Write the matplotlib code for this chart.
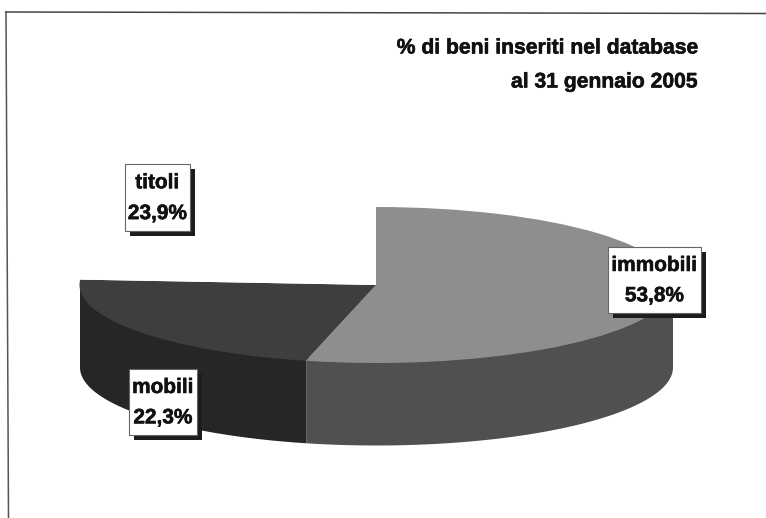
import numpy as np
import matplotlib
matplotlib.use('Agg')
import matplotlib.pyplot as plt
import matplotlib.patheffects as pe
from matplotlib.patches import Rectangle

plt.rcParams['font.family'] = ['Liberation Sans', 'DejaVu Sans']

categories = ['immobili', 'mobili', 'titoli']
shares = [53.8, 22.3, 23.9]
share_labels = ['53,8%', '22,3%', '23,9%']
title_lines = ['% di beni inseriti nel database', 'al 31 gennaio 2005']

top_colors = ['#8e8e8e', '#3e3e3e', 'white']
wall_colors = ['#505050', '#262626', 'white']

W, H = 766, 518
CX, CY = 376, 285      # pie centre on the page, px
RX, RY = 296.5, 78     # pie is squashed into this ellipse
DEPTH = 82 / RY        # wall height in pie units

fig = plt.figure(figsize=(W / 100, H / 100), dpi=100)

# pie axes: one data unit is one radius, aspect left free to squash it
ax = fig.add_axes([0, 0, 1, 1])
ax.pie(shares, colors=top_colors, startangle=90, counterclock=False,
       center=(0, 0), radius=1, frame=True, wedgeprops={'lw': 0})
ax.set_aspect('auto')
ax.set_xlim(-CX / RX, (W - CX) / RX)
ax.set_ylim((CY - H) / RY, CY / RY)
ax.axis('off')

# side wall, only the front half of the ellipse shows
ends = np.cumsum(shares) / 100 * 360
starts = ends - np.array(shares) / 100 * 360
for a, b, col in zip(starts, ends, wall_colors):
    a, b = max(a, 90), min(b, 270)
    if a >= b or col == 'white':
        continue
    t = np.radians(np.linspace(a, b, 120))
    x = np.sin(t)
    y = np.cos(t)
    # top edge runs a little under the pie so no seam shows
    ax.fill_between(x, y + 0.05, y - DEPTH, color=col, lw=0, zorder=0.5)

# overlay in page pixels for frame, title and labels
pg = fig.add_axes([0, 0, 1, 1])
pg.set_xlim(0, W)
pg.set_ylim(H, 0)
pg.axis('off')
pg.patch.set_alpha(0)

pg.plot([6, 8.5], [12, H], color='#555555', lw=1.1)
pg.plot([6, W], [12, 13.5], color='#444444', lw=1.1)

# thin stroke, the scanned text is heavier than the plain bold
heavy = [pe.withStroke(linewidth=0.4, foreground='#111111')]

for line, y in zip(title_lines, [48, 82]):
    pg.text(698, y, line, ha='right', va='center', fontsize=15.2, fontweight='bold',
            color='#111111', path_effects=heavy)

boxes = {'titoli': (125, 164, 65, 67), 'mobili': (129, 369, 68, 66), 'immobili': (608, 247, 93, 66)}
for name, val in zip(categories, share_labels):
    x, y, w, h = boxes[name]
    pg.add_patch(Rectangle((x + 5, y + 5), w, h, fc='#1c1c1c', ec='none'))
    pg.add_patch(Rectangle((x, y), w, h, fc='white', ec='#666666', lw=0.8))
    pg.text(x + w / 2, y + h * 0.28, name, ha='center', va='center', fontsize=15, fontweight='bold',
            color='#111111', path_effects=heavy)
    pg.text(x + w / 2, y + h * 0.74, val, ha='center', va='center', fontsize=15, fontweight='bold',
            color='#111111', path_effects=heavy)

fig.savefig('out.png', dpi=100, facecolor='white')
